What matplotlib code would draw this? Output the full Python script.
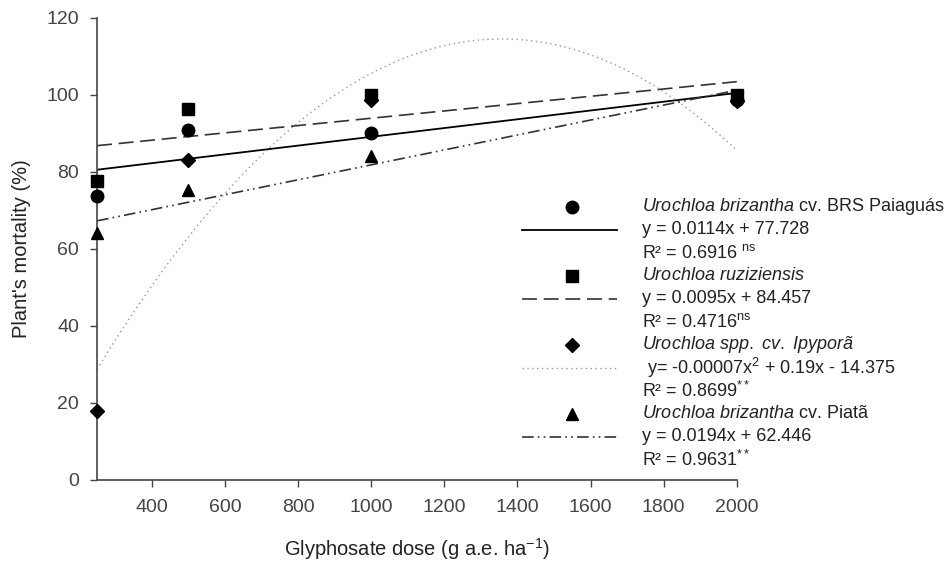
import numpy as np
import matplotlib
matplotlib.use("Agg")
import matplotlib.pyplot as plt

plt.rcParams['font.family'] = ['Liberation Sans', 'DejaVu Sans']
plt.rcParams['mathtext.fontset'] = 'custom'
plt.rcParams['mathtext.rm'] = 'Liberation Sans'
plt.rcParams['mathtext.it'] = 'Liberation Sans:italic'

# glyphosate doses (g a.e. ha-1)
doses = [250, 500, 1000, 2000]

# observed mortality (%)
paiaguas = [73.8, 90.9, 90.0, 98.6]
ruziziensis = [77.7, 96.4, 100.0, 100.0]
ipypora = [18.0, 83.1, 98.8, 98.5]
piata = [64.1, 75.3, 84.2, 100.0]

# fitted equations (from the legend)
paiaguas_fit = [0.0114, 77.728]
ruziziensis_fit = [0.0095, 84.457]
ipypora_fit = [-0.00007, 0.19, -14.375]
piata_fit = [0.0194, 62.446]

labels = [
    [r"$\mathit{Urochloa\ brizantha}$ cv. BRS Paiaguás",
     "y = 0.0114x + 77.728", r"R² = 0.6916 $^{\mathrm{ns}}$"],
    [r"$\mathit{Urochloa\ ruziziensis}$",
     "y = 0.0095x + 84.457", r"R² = 0.4716$^{\mathrm{ns}}$"],
    [r"$\mathit{Urochloa\ spp.\ cv.\ Ipyporã}$",
     r" y= -0.00007x$^{2}$ + 0.19x - 14.375", r"R² = 0.8699$^{**}$"],
    [r"$\mathit{Urochloa\ brizantha}$ cv. Piatã",
     "y = 0.0194x + 62.446", r"R² = 0.9631$^{**}$"],
]

grey = '#444444'
fig = plt.figure(figsize=(9.52, 5.62), dpi=100)
ax = fig.add_axes([0.1019, 0.146, 0.672, 0.822])

xs = np.linspace(250, 2000, 300)
series = [
    (paiaguas, np.polyval(paiaguas_fit, xs), 'o', 9, dict(color='black', lw=1.3, ls='-')),
    (ruziziensis, np.polyval(ruziziensis_fit, xs), 's', 8, dict(color='#333333', lw=1.2, ls=(0, (9, 4)))),
    (ipypora, np.polyval(ipypora_fit, xs), 'D', 7.5, dict(color='#999999', lw=1.0, ls=(0, (1, 2.5)))),
    (piata, np.polyval(piata_fit, xs), '^', 8.5, dict(color='#333333', lw=1.2, ls=(0, (7, 2.5, 1, 2.5, 1, 2.5)))),
]

for vals, fit, mk, ms, lstyle in series:
    ax.plot(xs, fit, **lstyle)
    ax.plot(doses, vals, mk, color='black', ms=ms, ls='none', clip_on=False, zorder=5)

ax.set_xlim(250, 2000)
ax.set_ylim(0, 120)
ax.set_xticks(range(400, 2001, 200))
ax.set_yticks(range(0, 121, 20))
ax.spines['top'].set_visible(False)
ax.spines['right'].set_visible(False)
for s in ['left', 'bottom']:
    ax.spines[s].set_color(grey)
    ax.spines[s].set_linewidth(1.2)
ax.tick_params(direction='out', length=5, width=1, colors=grey, labelsize=14)
ax.tick_params(axis='x', pad=9)
ax.tick_params(axis='y', pad=8)
ax.set_xlabel("Glyphosate dose (g a.e. ha$^{-1}$)", fontsize=14.5, color='#222222', labelpad=14)
ax.set_ylabel("Plant's mortality (%)", fontsize=14.5, color='#222222', labelpad=11)

# legend drawn by hand: marker row, line row, three text rows per entry
to_ax = lambda px, py: ((px - 97) / 640.0, (480 - py) / 462.0)
row_h = 23
for i, (vals, fit, mk, ms, lstyle) in enumerate(series):
    y0 = 207 + i * 3 * row_h
    mx, my = to_ax(572, y0)
    ax.plot([mx], [my], mk, color='black', ms=ms, transform=ax.transAxes, clip_on=False)
    lx0, ly = to_ax(522, y0 + row_h)
    lx1, _ = to_ax(617, y0 + row_h)
    ax.plot([lx0, lx1], [ly, ly], transform=ax.transAxes, clip_on=False, **lstyle)
    for j, txt in enumerate(labels[i]):
        tx, ty = to_ax(642, y0 + j * row_h)
        ax.text(tx, ty, txt, transform=ax.transAxes, fontsize=13, color='#222222',
                va='center', ha='left')

fig.savefig("out.png", dpi=100)
